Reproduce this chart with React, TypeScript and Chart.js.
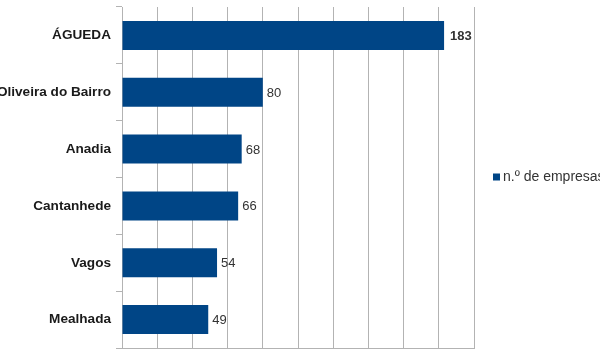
import React, { useEffect, useRef } from "react";
import { Chart, registerables } from "chart.js";

Chart.register(...registerables);

const categories = ["ÁGUEDA", "Oliveira do Bairro", "Anadia", "Cantanhede", "Vagos", "Mealhada"];
const values = [183, 80, 68, 66, 54, 49];
const boldLabels = [true, false, false, false, false, false];
const seriesName = "n.º de empresas";
const xMin = 0;
const xMax = 200;
const xStep = 20;

const FONT = "'Liberation Sans', Arial, sans-serif";
const BAR = "#004586";
const GRID = "#b3b3b3";

const valueLabelPlugin = {
  id: "valueLabels",
  afterDatasetsDraw(chart: any) {
    const ctx = chart.ctx;
    const meta = chart.getDatasetMeta(0);
    ctx.save();
    ctx.textBaseline = "middle";
    ctx.textAlign = "left";
    ctx.fillStyle = "#333333";
    meta.data.forEach((bar: any, i: number) => {
      ctx.font = `${boldLabels[i] ? "bold " : ""}13px ${FONT}`;
      ctx.fillText(String(values[i]), bar.x + (boldLabels[i] ? 6 : 4), bar.y + 1);
    });
    ctx.restore();
  },
};

const legendPlugin = {
  id: "sideLegend",
  afterDraw(chart: any) {
    const ctx = chart.ctx;
    const area = chart.chartArea;
    const x = area.right + 19;
    const y = (area.top + area.bottom) / 2;
    ctx.save();
    ctx.fillStyle = BAR;
    ctx.fillRect(x, y - 4, 7, 7);
    ctx.fillStyle = "#333333";
    ctx.font = `14px ${FONT}`;
    ctx.textBaseline = "middle";
    ctx.textAlign = "left";
    ctx.fillText(seriesName, x + 10, y);
    ctx.restore();
  },
};

export default function App() {
  const ref = useRef<HTMLCanvasElement>(null);
  useEffect(() => {
    document.body.style.margin = "0";
    const chart = new Chart(ref.current!, {
      type: "bar",
      data: {
        labels: categories,
        datasets: [
          {
            label: seriesName,
            data: values,
            backgroundColor: BAR,
            borderWidth: 0,
            barPercentage: 0.51,
            categoryPercentage: 1,
          },
        ],
      },
      options: {
        indexAxis: "y",
        animation: false,
        responsive: false,
        maintainAspectRatio: false,
        layout: { padding: { left: 0, right: 126, top: 7, bottom: 7 } },
        plugins: { legend: { display: false }, tooltip: { enabled: false } },
        scales: {
          x: {
            min: xMin,
            max: xMax,
            ticks: { display: false, stepSize: xStep },
            grid: { color: GRID, drawTicks: false, lineWidth: 1 },
            border: { color: GRID },
            afterFit(scale: any) {
              scale.height = 0;
              scale.paddingLeft = 0;
              scale.paddingRight = 0;
            },
          },
          y: {
            ticks: {
              padding: 5,
              color: "#1a1a1a",
              font: { family: FONT, size: 13.6, weight: "bold" },
            },
            grid: { offset: true, drawOnChartArea: false, tickLength: 6, color: GRID },
            border: { color: GRID },
            afterFit(scale: any) {
              scale.width = 122;
              scale.paddingTop = 0;
              scale.paddingBottom = 0;
            },
          },
        },
      },
      plugins: [valueLabelPlugin, legendPlugin],
    });
    return () => chart.destroy();
  }, []);
  return <canvas ref={ref} width={600} height={355} style={{ display: "block" }} />;
}
